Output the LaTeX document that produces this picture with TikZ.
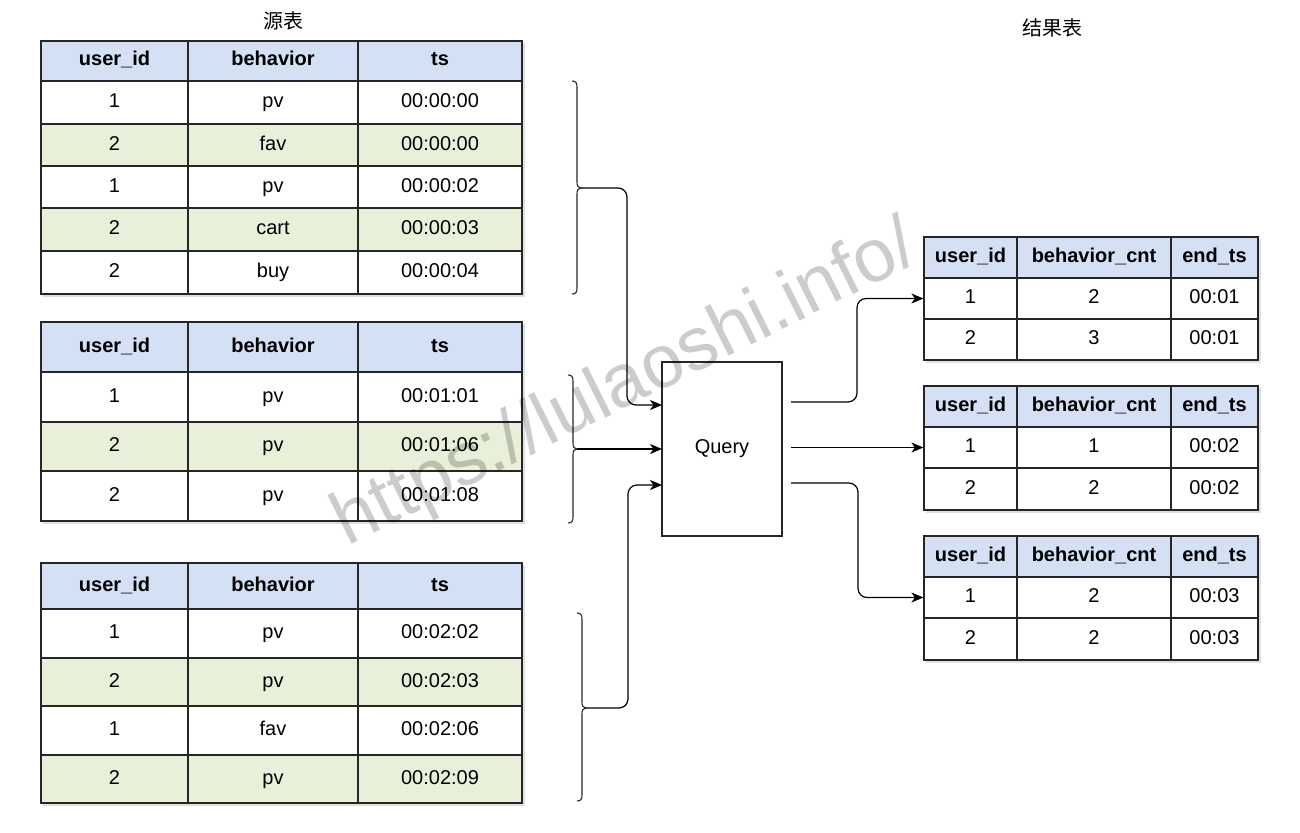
\documentclass[tikz,border=0pt]{standalone}
\usepackage{fontspec}
\setmainfont{Liberation Sans}
\newfontfamily\cjk{Noto Sans CJK SC}
\usetikzlibrary{arrows.meta}
\definecolor{hdr}{HTML}{D4E1F5}
\definecolor{grn}{HTML}{E9F0D9}
\tikzset{
  cell/.style={draw=black!85, line width=1.2pt, inner sep=0pt, fill=white, text height=14.5pt, text depth=4.5pt, font=\fontsize{20}{24}\selectfont},
  gcell/.style={cell, fill=grn},
  hcell/.style={cell, fill=hdr, font=\fontsize{20}{24}\selectfont\bfseries},
  shadowbox/.style={fill=black!12},
  bracepath/.style={line width=1.1pt, draw=black!85},
  arr/.style={line width=1.2pt, -{Stealth[length=12pt,width=10pt,inset=3.5pt]}, rounded corners=9pt},
  querybox/.style={draw=black!85, line width=1.2pt, fill=white, minimum width=120pt, minimum height=174pt, font=\fontsize{20}{24}\selectfont},
  title/.style={font=\cjk\fontsize{20}{24}\selectfont},
  watermark/.style={rotate=26.5, text=black, text opacity=0.2, font=\fontsize{75}{80}\selectfont}
}
\newcommand\mycell[7]{\node[#6, minimum width={#3pt-#2pt}, minimum height={#5pt-#4pt}] (#1) at ({(#2+#3)/2},{(#4+#5)/2}) {#7};}
\newcommand\lrow[7]{%
  \mycell{#1a}{41}{188}{#2}{#3}{#4}{#5}%
  \mycell{#1b}{188}{358}{#2}{#3}{#4}{#6}%
  \mycell{#1c}{358}{522}{#2}{#3}{#4}{#7}}
\newcommand\rrow[7]{%
  \mycell{#1a}{924}{1017}{#2}{#3}{#4}{#5}%
  \mycell{#1b}{1017}{1171}{#2}{#3}{#4}{#6}%
  \mycell{#1c}{1171}{1258}{#2}{#3}{#4}{#7}}
\newcommand\mybrace[5]{% name, xv, ytop, ytip, ybot
  \draw[bracepath] ({#2-5},#3) .. controls ({#2-1},#3) and (#2,{#3+2}) .. (#2,{#3+6})
    -- (#2,{#4-6}) .. controls (#2,{#4-2}) and ({#2+1},#4) .. ({#2+4},#4)
    .. controls ({#2+1},#4) and (#2,{#4+2}) .. (#2,{#4+6})
    -- (#2,{#5-6}) .. controls (#2,{#5-2}) and ({#2-1},#5) .. ({#2-5},#5);
  \coordinate (#1) at ({#2+4},#4);}
\begin{document}
\begin{tikzpicture}[x=1pt,y=-1pt]
\useasboundingbox (0,0) rectangle (1300,832);
% titles
\node[title] (t1) at (283,21) {源表};
\node[title] (t2) at (1052,28) {结果表};
% shadows
\fill[shadowbox] (43,43) rectangle (524.5,296.5);
\fill[shadowbox] (43,324) rectangle (524.5,523.5);
\fill[shadowbox] (43,565) rectangle (524.5,805.5);
\fill[shadowbox] (926,239) rectangle (1260.5,362.5);
\fill[shadowbox] (926,388) rectangle (1260.5,512.5);
\fill[shadowbox] (926,538) rectangle (1260.5,662.5);
% table 1
\lrow{a0}{41}{81}{hcell}{user\_id}{behavior}{ts}
\lrow{a1}{81}{124}{cell}{1}{pv}{00:00:00}
\lrow{a2}{124}{166}{gcell}{2}{fav}{00:00:00}
\lrow{a3}{166}{208}{cell}{1}{pv}{00:00:02}
\lrow{a4}{208}{251}{gcell}{2}{cart}{00:00:03}
\lrow{a5}{251}{294}{cell}{2}{buy}{00:00:04}
% table 2
\lrow{b0}{322}{372}{hcell}{user\_id}{behavior}{ts}
\lrow{b1}{372}{422}{cell}{1}{pv}{00:01:01}
\lrow{b2}{422}{471}{gcell}{2}{pv}{00:01:06}
\lrow{b3}{471}{521}{cell}{2}{pv}{00:01:08}
% table 3
\lrow{c0}{563}{609}{hcell}{user\_id}{behavior}{ts}
\lrow{c1}{609}{658}{cell}{1}{pv}{00:02:02}
\lrow{c2}{658}{706}{gcell}{2}{pv}{00:02:03}
\lrow{c3}{706}{755}{cell}{1}{fav}{00:02:06}
\lrow{c4}{755}{803}{gcell}{2}{pv}{00:02:09}
% result tables
\rrow{rA0}{237}{278}{hcell}{user\_id}{behavior\_cnt}{end\_ts}
\rrow{rA1}{278}{319}{cell}{1}{2}{00:01}
\rrow{rA2}{319}{360}{cell}{2}{3}{00:01}
\rrow{rB0}{386}{427}{hcell}{user\_id}{behavior\_cnt}{end\_ts}
\rrow{rB1}{427}{468}{cell}{1}{1}{00:02}
\rrow{rB2}{468}{510}{cell}{2}{2}{00:02}
\rrow{rC0}{536}{577}{hcell}{user\_id}{behavior\_cnt}{end\_ts}
\rrow{rC1}{577}{618}{cell}{1}{2}{00:03}
\rrow{rC2}{618}{660}{cell}{2}{2}{00:03}
% query
\node[querybox] (q) at (722,449) {Query};
\coordinate (qi1) at (662,405);
\coordinate (qi2) at (662,449);
\coordinate (qi3) at (662,485);
\coordinate (qo1) at (791,402);
\coordinate (qo2) at (791,447.5);
\coordinate (qo3) at (791,483);
% braces
\mybrace{br1}{577}{81}{188}{294}
\mybrace{br2}{573}{375}{449}{523}
\mybrace{br3}{582}{613}{708}{801}
% connectors
\draw[arr] (br1) -- ++(46,0) |- (qi1);
\draw[arr] (br2) -- (qi2);
\draw[arr] (br3) -- ++(42,0) |- (qi3);
\draw[arr] (qo1) -- ++(66,0) |- (rA1a.west);
\draw[arr] (qo2) -- (rB1a.west);
\draw[arr] (qo3) -- ++(67,0) |- (rC1a.west);
% watermark
\node[watermark] (wm) at (626,386) {https://lulaoshi.info/};
\end{tikzpicture}
\end{document}
